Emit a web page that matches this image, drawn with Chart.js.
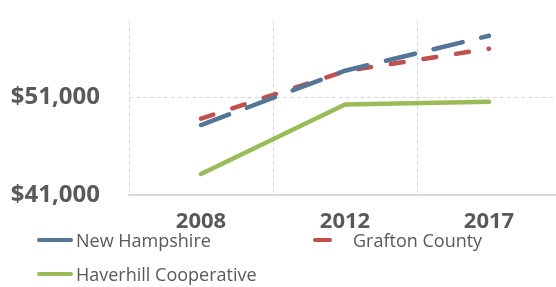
<!DOCTYPE html>
<html>
<head>
<meta charset="utf-8">
<script src="https://cdn.jsdelivr.net/npm/chart.js@4.4.1/dist/chart.umd.min.js"></script>
<style>
  html, body { margin: 0; padding: 0; background: #fff; overflow: hidden; }
  #wrap { position: relative; width: 556px; height: 287px; overflow: hidden; }
  #chart { position: absolute; left: 0; top: 0; }
  .leg { position: absolute; font-family: "Open Sans", sans-serif; font-size: 18px; color: #595959; white-space: nowrap; line-height: 24px; }
  .leg i { position: absolute; top: 10px; height: 4px; border-radius: 2px; }
</style>
</head>
<body>
<div id="wrap">
  <canvas id="chart" width="570" height="237"></canvas>
</div>
<script>
// data
const years = ['2008', '2012', '2017'];
const newHampshire = [48150, 53700, 57270];
const graftonCounty = [48800, 53650, 55950];
const haverhill = [43150, 50240, 50520];
const yTicks = [41000, 51000];
const seriesNames = ['New Hampshire', 'Grafton County', 'Haverhill Cooperative'];

const colors = ['#557596', '#c0504d', '#9bbb59'];
const dashes = [[30, 19], [13, 20], []];
const gridColor = '#d9d9d9';
const textColor = '#595959';

const ctx = document.getElementById('chart').getContext('2d');

const series = [newHampshire, graftonCounty, haverhill];
const datasets = series.map((data, i) => ({
    label: seriesNames[i],
    data: data,
    borderColor: colors[i],
    borderWidth: 4.5,
    borderDash: dashes[i],
    borderCapStyle: 'round',
    borderJoinStyle: 'round',
    pointRadius: 0,
    tension: 0,
    fill: false,
    order: i  // blue drawn on top
}));

new Chart(ctx, {
    type: 'line',
    data: { labels: years, datasets: datasets },
    options: {
        responsive: false,
        animation: false,
        devicePixelRatio: 1,
        layout: { padding: { top: 21, left: 0, right: 9, bottom: 0 } },
        plugins: { legend: { display: false }, tooltip: { enabled: false } },
        scales: {
            x: {
                offset: true,
                grid: { color: gridColor, lineWidth: 1, drawTicks: false, offset: true },
                border: { display: true, color: gridColor, width: 2, dash: [4, 3] },
                ticks: {
                    color: textColor,
                    padding: 14,
                    font: { family: 'Open Sans', size: 22, weight: 'bold' }
                },
                afterFit: (scale) => { scale.height = 42; scale.paddingLeft = 0; scale.paddingRight = 0; }
            },
            y: {
                min: 41000,
                max: 58780,
                grid: {
                    drawTicks: false,
                    lineWidth: 1,
                    color: (c) => (c.tick && c.tick.value === 51000) ? gridColor : 'rgba(0,0,0,0)'
                },
                border: { display: false, dash: [4, 3] },
                afterBuildTicks: (axis) => { axis.ticks = yTicks.map(v => ({ value: v })); },
                afterFit: (scale) => { scale.width = 129; scale.paddingTop = 0; scale.paddingBottom = 0; },
                ticks: {
                    color: textColor,
                    padding: 29,
                    font: { family: 'Open Sans', size: 24, weight: 'bold' },
                    callback: (v) => '$' + Number(v).toLocaleString('en-US')
                }
            }
        }
    }
});

// legend laid out like the original: two items on the first row, one below
const legendSpots = [[37, 228], [313, 228], [37, 262]];
const markerWidths = [36, 19, 36];
const textStarts = [39, 40, 39];
const wrap = document.getElementById('wrap');
seriesNames.forEach((name, i) => {
    const d = document.createElement('div');
    d.className = 'leg';
    d.style.left = legendSpots[i][0] + 'px';
    d.style.top = legendSpots[i][1] + 'px';
    d.style.paddingLeft = textStarts[i] + 'px';
    const m = document.createElement('i');
    m.style.left = '0px';
    m.style.width = markerWidths[i] + 'px';
    m.style.background = colors[i];
    d.appendChild(m);
    d.appendChild(document.createTextNode(name));
    wrap.appendChild(d);
});
</script>
</body>
</html>
